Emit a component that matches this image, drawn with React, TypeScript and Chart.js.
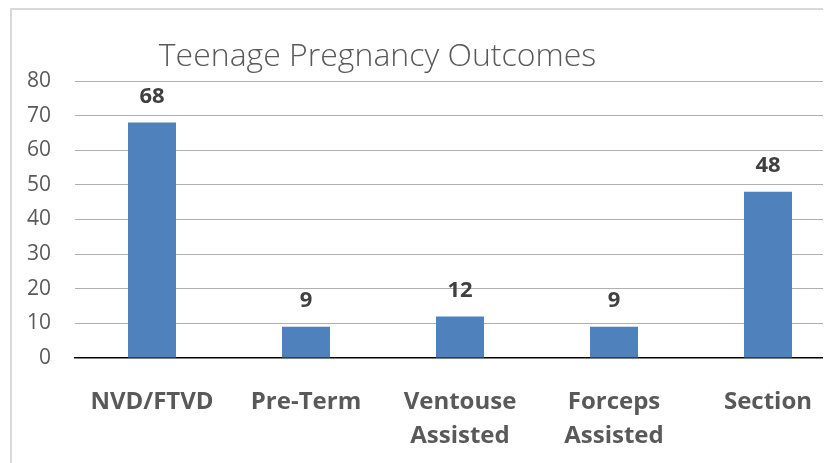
import React, { useEffect, useRef } from 'react';
import { Chart, registerables } from 'chart.js';

Chart.register(...registerables);

const chartTitle = 'Teenage Pregnancy Outcomes';
const categories: string[][] = [['NVD/FTVD'], ['Pre-Term'], ['Ventouse', 'Assisted'], ['Forceps', 'Assisted'], ['Section']];
const values: number[] = [68, 9, 12, 9, 48];
const yMin = 0;
const yMax = 80;
const yStep = 10;

const CANVAS_W = 860;
const CANVAS_H = 453;
const PLOT_LEFT = 63;
const PLOT_TOP = 71;
const PLOT_BOTTOM = 348;
const PLOT_RIGHT = 833;

const FONT = '"Open Sans", "DejaVu Sans", sans-serif';

export default function App() {
  const ref = useRef<HTMLCanvasElement | null>(null);

  useEffect(() => {
    if (!ref.current) return;

    const titlePlugin = {
      id: 'customTitle',
      afterDraw(chart: any) {
        const ctx = chart.ctx;
        ctx.save();
        ctx.font = `300 32px ${FONT}`;
        ctx.fillStyle = '#595959';
        ctx.textAlign = 'center';
        ctx.textBaseline = 'alphabetic';
        ctx.fillText(chartTitle, 365.5, 56);
        ctx.restore();
      },
    };

    const valueLabels = {
      id: 'valueLabels',
      afterDatasetsDraw(chart: any) {
        const ctx = chart.ctx;
        const meta = chart.getDatasetMeta(0);
        ctx.save();
        ctx.font = `bold 22px ${FONT}`;
        ctx.fillStyle = '#404040';
        ctx.textAlign = 'center';
        ctx.textBaseline = 'middle';
        meta.data.forEach((bar: any, i: number) => {
          ctx.fillText(String(values[i]), bar.x, bar.y - 26);
        });
        ctx.restore();
      },
    };

    const chart = new Chart(ref.current, {
      type: 'bar',
      data: {
        labels: categories,
        datasets: [
          {
            data: values,
            backgroundColor: '#4f81bd',
            borderWidth: 0,
            categoryPercentage: 1,
            barPercentage: 0.312,
          },
        ],
      },
      options: {
        responsive: false,
        animation: false,
        devicePixelRatio: 1,
        layout: {
          padding: { left: 0, top: PLOT_TOP, right: CANVAS_W - PLOT_RIGHT, bottom: 0 },
        },
        plugins: {
          legend: { display: false },
          title: { display: false },
          tooltip: { enabled: false },
        },
        scales: {
          x: {
            grid: { display: false, drawTicks: false },
            border: { display: true, color: '#000000', width: 1.5 },
            ticks: {
              color: '#595959',
              padding: 27,
              font: { family: FONT, size: 24, weight: 'bold', lineHeight: '34px' },
              maxRotation: 0,
              autoSkip: false,
            },
            afterFit(scale: any) {
              scale.height = CANVAS_H - PLOT_BOTTOM;
            },
          },
          y: {
            min: yMin,
            max: yMax,
            grid: {
              drawTicks: false,
              color: (c: any) => (c.tick && c.tick.value === 0 ? 'rgba(0,0,0,0)' : '#b0b0b0'),
              lineWidth: 1,
            },
            border: { display: false },
            ticks: {
              stepSize: yStep,
              color: '#595959',
              padding: 24,
              font: { family: FONT, size: 21 },
            },
            afterFit(scale: any) {
              scale.width = PLOT_LEFT;
            },
          },
        },
      },
      plugins: [titlePlugin, valueLabels],
    });

    return () => chart.destroy();
  }, []);

  return (
    <div style={{ width: 823, height: 455, overflow: 'hidden', position: 'relative' }}>
      <div
        style={{
          position: 'absolute',
          left: 2,
          top: 0,
          width: 900,
          height: 500,
          borderLeft: '2px solid #d9d9d9',
          borderTop: '2px solid #d9d9d9',
          background: '#ffffff',
        }}
      >
        <canvas ref={ref} width={CANVAS_W} height={CANVAS_H} style={{ display: 'block', width: CANVAS_W, height: CANVAS_H }} />
      </div>
    </div>
  );
}
